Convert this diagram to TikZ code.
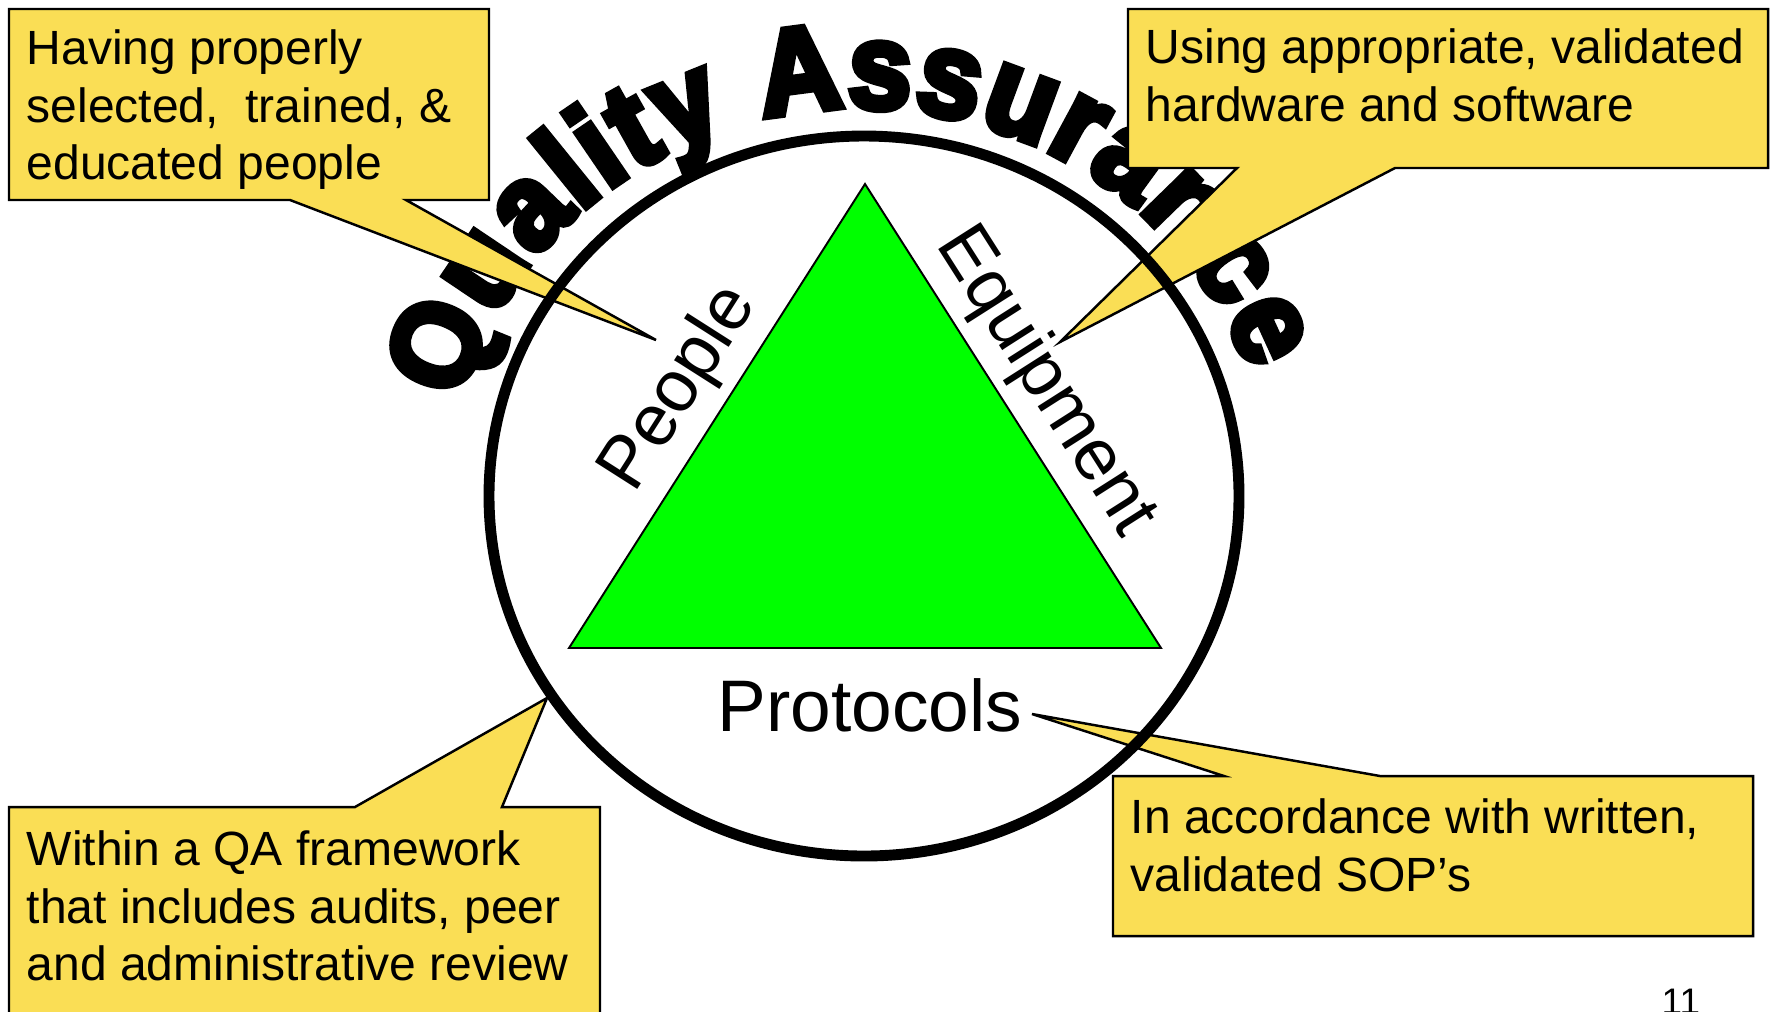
\documentclass[tikz,border=0pt]{standalone}
\usepackage{fontspec}
\setmainfont{Liberation Sans}
\newfontfamily\qafont{Liberation Sans}[FakeBold=6,FakeStretch=0.93]
\usetikzlibrary{decorations.text}
\definecolor{calloutyellow}{RGB}{250,222,85}
\definecolor{trigreen}{RGB}{0,255,0}
\newcommand\qastyle{\qafont\bfseries\fontsize{34.5pt}{34.5pt}\selectfont}
\newcommand\calloutsize{\fontsize{13.66pt}{16.36pt}\selectfont}
\newcommand\labelsize{\fontsize{20.77pt}{24pt}\selectfont}
\begin{document}
\begin{tikzpicture}[x=0.01cm, y=-0.01cm,
  callout/.style={fill=calloutyellow, draw=black, line width=0.7pt, line join=miter},
  callouttext/.style={anchor=north west, inner sep=0pt, align=left, font=\calloutsize},
  sidelabel/.style={anchor=base, inner sep=0pt, font=\labelsize},
  ring/.style={draw=black, line width=3.1pt},
  tri/.style={fill=trigreen, draw=black, line width=0.55pt, line join=miter}]
\useasboundingbox (0,0) rectangle (1773,1011);
\clip (0,0) rectangle (1773,1011);
% arched title
\path[decorate, decoration={text along path, text={|\qastyle|Quality Assurance}, text align={fit to path}}]
  (860,500) ++(-165.5:412 and 392) arc[start angle=-165.5, end angle=-19, x radius=412, y radius=392];
% callouts
\draw[callout] (9,9) -- (489,9) -- (489,200) -- (406,200) -- (656,340) -- (290,200) -- (9,200) -- cycle;
\node[callouttext] (peoplenote) at (26,25.6) {\rule{0pt}{0.8em}Having properly\\selected,~ trained, \&\\educated people};
\draw[callout] (1128,9) -- (1768,9) -- (1768,168) -- (1395,168) -- (1060,342) -- (1237,168) -- (1128,168) -- cycle;
\node[callouttext] (equipnote) at (1145,24.6) {\rule{0pt}{0.8em}Using appropriate, validated\\hardware and software};
\draw[callout] (9,807) -- (355,807) -- (547,698) -- (502,807) -- (600,807) -- (600,1030) -- (9,1030) -- cycle;
\node[callouttext] (qanote) at (26,826.6) {\rule{0pt}{0.8em}Within a QA framework\\that includes audits, peer\\and administrative review};
\draw[callout] (1113,776) -- (1224,776) -- (1032,714) -- (1380,776) -- (1753,776) -- (1753,936) -- (1113,936) -- cycle;
\node[callouttext] (sopnote) at (1130,794.6) {\rule{0pt}{0.8em}In accordance with written,\\validated SOP’s};
% ring and triangle
\draw[ring] (864,496) ellipse [x radius=375, y radius=360];
\draw[tri] (865,184) -- (1161,648) -- (569,648) -- cycle;
% labels
\node[sidelabel, rotate=57.5] (people) at (696,399) {People};
\node[sidelabel, rotate=-57.5] (equipment) at (1029,392) {Equipment};
\node[sidelabel] (protocols) at (870,731) {Protocols};
\node[anchor=base west, inner sep=0pt, font=\fontsize{10.5pt}{12pt}\selectfont] (pagenum) at (1661,1014) {11};
\end{tikzpicture}
\end{document}
